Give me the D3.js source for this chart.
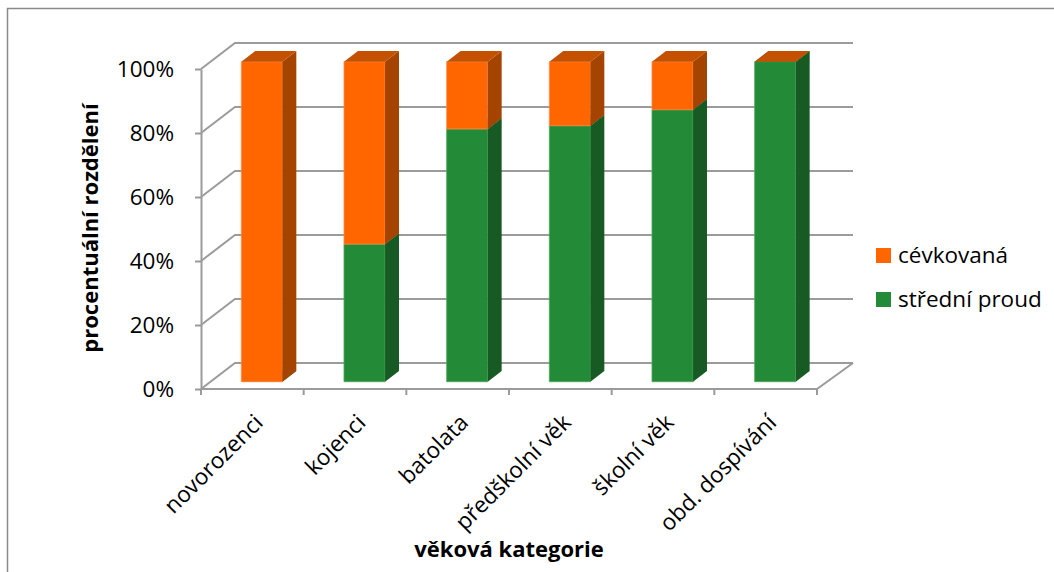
<!DOCTYPE html>
<html>
<head>
<meta charset="utf-8">
<script src="https://cdn.jsdelivr.net/npm/d3@7"></script>
<style>
  html, body { margin: 0; padding: 0; background: #fff; }
  svg { display: block; }
  text { font-family: "Open Sans", Lato, sans-serif; fill: #000; }
</style>
</head>
<body>
<svg id="chart" width="1054" height="572"></svg>
<script>
// Age groups and the share (%) of each ward type per group
const categories = ["novorozenci", "kojenci", "batolata", "předškolní věk", "školní věk", "obd. dospívání"];
const stredniProud = [0, 43, 79, 80, 85, 100];
const cevkovana = [100, 57, 21, 20, 15, 0];
const yTicks = [0, 20, 40, 60, 80, 100];

const seriesNames = ["střední proud", "cévkovaná"];
const seriesColors = {
  "střední proud": { front: "#238B37", side: "#175A24", top: "#1C7A2F", edge: "#4FA75E" },
  "cévkovaná":     { front: "#FF6600", side: "#A54300", top: "#C45100", edge: "#FF8C47" }
};

const FONT = "'Open Sans', Lato, sans-serif";
const FS = "22.5px";

const svg = d3.select("#chart");

// Front plane of the plot box and the oblique depth offset to the back wall
const x = d3.scaleBand().domain(categories).range([201, 817]).padding(0);
const y = d3.scaleLinear().domain([0, 100]).range([389, 69]);
const DX = 34, DY = -26;

// Chart area frame
svg.append("path")
  .attr("d", "M7.5,572 V8.5 H1054")
  .attr("fill", "none").attr("stroke", "#8a8a8a").attr("stroke-width", 1.5);

const gridColor = "#9b9b9b";
const grid = svg.append("g").attr("fill", "none").attr("stroke", gridColor).attr("stroke-width", 2);

// Back-wall and side-wall gridlines
yTicks.forEach(v => {
  const y0 = y(v);
  grid.append("path")
    .attr("d", `M${x.range()[0]},${y0} L${x.range()[0] + DX},${y0 + DY} L${x.range()[1] + DX + 2},${y0 + DY}`);
});
// Floor edges
grid.append("path")
  .attr("d", `M${x.range()[0]},${y(0)} L${x.range()[1]},${y(0)} L${x.range()[1] + DX + 2},${y(0) + DY}`);

// Value axis (front-left edge)
const yAxis = d3.axisLeft(y)
  .tickValues(yTicks)
  .tickFormat(d => d + "%")
  .tickSizeInner(6)
  .tickSizeOuter(0)
  .tickPadding(21);
const gy = svg.append("g").attr("transform", `translate(${x.range()[0]},0)`).call(yAxis);
gy.select(".domain").attr("stroke", gridColor).attr("stroke-width", 2);
gy.selectAll(".tick line").attr("stroke", gridColor).attr("stroke-width", 2);
gy.selectAll(".tick text").style("font-size", FS).style("font-family", FONT).attr("fill", "#000");

// Category boundary ticks on the floor's front edge
const bounds = categories.map(c => x(c)).concat([x.range()[1]]);
svg.append("g").selectAll("line").data(bounds).join("line")
  .attr("x1", d => d).attr("x2", d => d)
  .attr("y1", y(0)).attr("y2", y(0) + 6)
  .attr("stroke", gridColor).attr("stroke-width", 2);

// Stacked 3D columns
const stackData = categories.map((c, i) => ({ cat: c, "střední proud": stredniProud[i], "cévkovaná": cevkovana[i] }));
const stacked = d3.stack().keys(seriesNames)(stackData);

const barFrac = 0.4;           // column width as share of the category band
const f0 = 0.28, f1 = 0.69;    // column depth span within the plot depth
const bw = x.bandwidth() * barFrac;
const ox0 = DX * f0, oy0 = DY * f0;
const ox1 = DX * f1, oy1 = DY * f1;

const bars = svg.append("g");
categories.forEach((c, i) => {
  const xl = x(c) + (x.bandwidth() - bw) / 2 + ox0;
  const xr = xl + bw;
  stacked.forEach(layer => {
    const col = seriesColors[layer.key];
    const [v0, v1] = layer[i];
    const yb = y(v0) + oy0, yt = y(v1) + oy0;
    const dx = ox1 - ox0, dy = oy1 - oy0;
    if (v1 > v0) {
      bars.append("path")
        .attr("d", `M${xl},${yb} L${xl},${yt} L${xr},${yt} L${xr},${yb} Z`)
        .attr("fill", col.front).attr("stroke", col.edge).attr("stroke-width", 0.8);
      bars.append("path")
        .attr("d", `M${xr},${yb} L${xr},${yt} L${xr + dx},${yt + dy} L${xr + dx},${yb + dy} Z`)
        .attr("fill", col.side);
    }
    bars.append("path")
      .attr("d", `M${xl},${yt} L${xr},${yt} L${xr + dx},${yt + dy} L${xl + dx},${yt + dy} Z`)
      .attr("fill", col.top);
  });
});

// Category labels, rotated
svg.append("g").selectAll("text").data(categories).join("text")
  .attr("transform", d => `translate(${x(d) + x.bandwidth() / 2 + 12},${424}) rotate(-45)`)
  .attr("text-anchor", "end")
  .style("font-size", FS)
  .text(d => d);

// Axis titles
svg.append("text")
  .attr("transform", `translate(98,228) rotate(-90)`)
  .attr("text-anchor", "middle")
  .style("font-size", "22px").style("font-weight", "bold")
  .text("procentuální rozdělení");

svg.append("text")
  .attr("x", 509).attr("y", 557)
  .attr("text-anchor", "middle")
  .style("font-size", "22px").style("font-weight", "bold")
  .text("věková kategorie");

// Legend
const legendItems = ["cévkovaná", "střední proud"];
const lg = svg.append("g").selectAll("g").data(legendItems).join("g")
  .attr("transform", (d, i) => `translate(876,${248 + i * 44})`);
lg.append("rect").attr("width", 15).attr("height", 15).attr("fill", d => seriesColors[d].front);
lg.append("text").attr("x", 22).attr("y", 15).style("font-size", FS).text(d => d);
</script>
</body>
</html>
